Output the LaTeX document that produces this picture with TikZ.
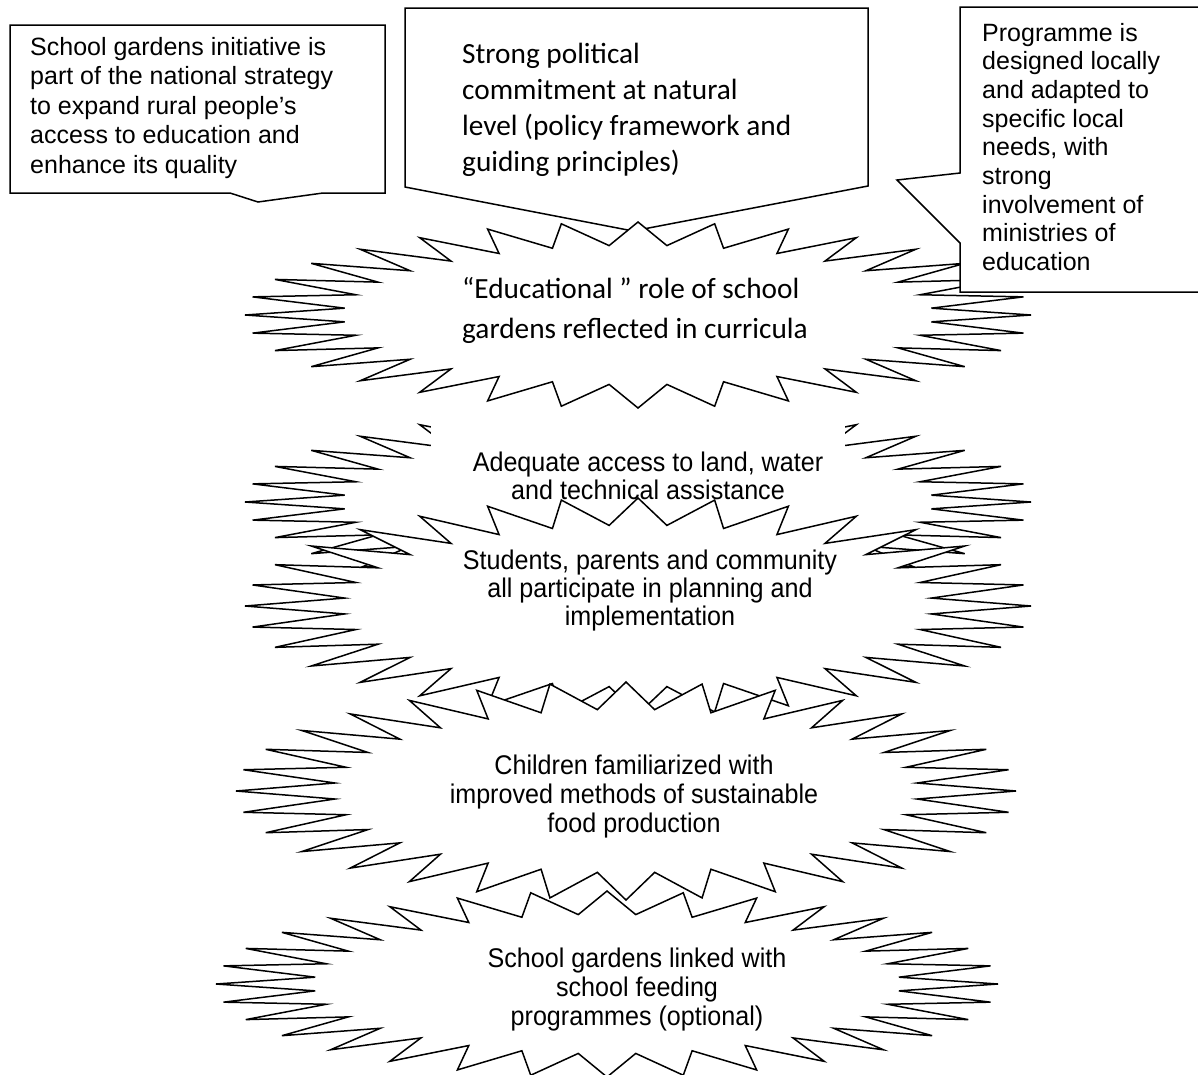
\documentclass[tikz,border=0pt]{standalone}
\usepackage{fontspec}
\newfontfamily\arialf{Liberation Sans}
\newfontfamily\calibrif{Carlito}
\newfontfamily\narrowf[FakeStretch=0.93]{Liberation Sans}

% 32-point star scaled to an ellipse: centre (#1,#2), outer half-axes #3 x #4
\newcommand\burststar[4]{%
  \draw[outline] ({#1+#3},#2)
    \foreach \k [evaluate=\k as \r using {ifthenelse(mod(\k,2)==0,1,0.75)}] in {1,...,63}
      { -- ({#1+\r*#3*cos(\k*5.625)},{#2+\r*#4*sin(\k*5.625)}) } -- cycle;%
}

\begin{document}
\begin{tikzpicture}[x=1pt,y=-1pt,
  outline/.style={draw=black,line width=1.5pt,fill=white},
  boxtext/.style={font=\arialf\fontsize{25}{29.5}\selectfont,anchor=base west,inner sep=0pt},
  calitext/.style={font=\calibrif\fontsize{29.3}{35.7}\selectfont,anchor=base west,inner sep=0pt},
  startext/.style={font=\narrowf\fontsize{27}{28}\selectfont,anchor=base,inner sep=0pt}]
\useasboundingbox (0,0) rectangle (1198,1074);
\clip (0,0) rectangle (1198,1074);

% middle callout, its pointer runs under the first star
\draw[outline] (405,8) -- (868,8) -- (868,186) -- (633,231) -- (405,187) -- cycle;

% second star and the white text panel over its top
\burststar{638}{502}{393}{93}
\fill[white] (431,404) rectangle (845,497);

% first star
\burststar{638}{315}{393}{93}
% lower stars
\burststar{638}{606}{393}{108}
\burststar{626}{791}{390}{109}
\burststar{607}{984}{391}{93}

% right callout, pointing left
\draw[outline] (960,7) -- (1210,7) -- (1210,292) -- (960,292) -- (960,243)
  -- (897,180) -- (960,173) -- cycle;
% left callout, pointing down
\draw[outline] (10,25) -- (385,25) -- (385,193) -- (323,193) -- (258,202)
  -- (230,193) -- (10,193) -- cycle;

% left callout text
\node[boxtext] (l1) at (30,55)  {School gardens initiative is};
\node[boxtext] (l2) at (30,84.5) {part of the national strategy};
\node[boxtext] (l3) at (30,114) {to expand rural people’s};
\node[boxtext] (l4) at (30,143.5) {access to education and};
\node[boxtext] (l5) at (30,173) {enhance its quality};

% middle callout text
\node[calitext] (m1) at (462,63)  {Strong political};
\node[calitext] (m2) at (462,99)  {commitment at natural};
\node[calitext] (m3) at (462,135) {level (policy framework and};
\node[calitext] (m4) at (462,171) {guiding principles)};

% right callout text
\node[boxtext] (r1) at (982,41)  {Programme is};
\node[boxtext] (r2) at (982,69.7) {designed locally};
\node[boxtext] (r3) at (982,98.4) {and adapted to};
\node[boxtext] (r4) at (982,127.1) {specific local};
\node[boxtext] (r5) at (982,155.8) {needs, with};
\node[boxtext] (r6) at (982,184.5) {strong};
\node[boxtext] (r7) at (982,213.2) {involvement of};
\node[boxtext] (r8) at (982,241.9) {ministries of};
\node[boxtext] (r9) at (982,270.6) {education};

% star texts
\node[calitext] (a1) at (462,298) {“Educational ” role of school};
\node[calitext] (a2) at (462,338) {gardens reflected in curricula};

\node[startext] (b1) at (648,471) {Adequate access to land, water};
\node[startext] (b2) at (648,499) {and technical assistance};

\node[startext] (c1) at (650,569) {Students, parents and community};
\node[startext] (c2) at (650,597) {all participate in planning and};
\node[startext] (c3) at (650,625) {implementation};

\node[startext] (d1) at (634,774) {Children familiarized with};
\node[startext] (d2) at (634,803) {improved methods of sustainable};
\node[startext] (d3) at (634,832) {food production};

\node[startext] (e1) at (637,967) {School gardens linked with};
\node[startext] (e2) at (637,996) {school feeding};
\node[startext] (e3) at (637,1025) {programmes (optional)};
\end{tikzpicture}
\end{document}
